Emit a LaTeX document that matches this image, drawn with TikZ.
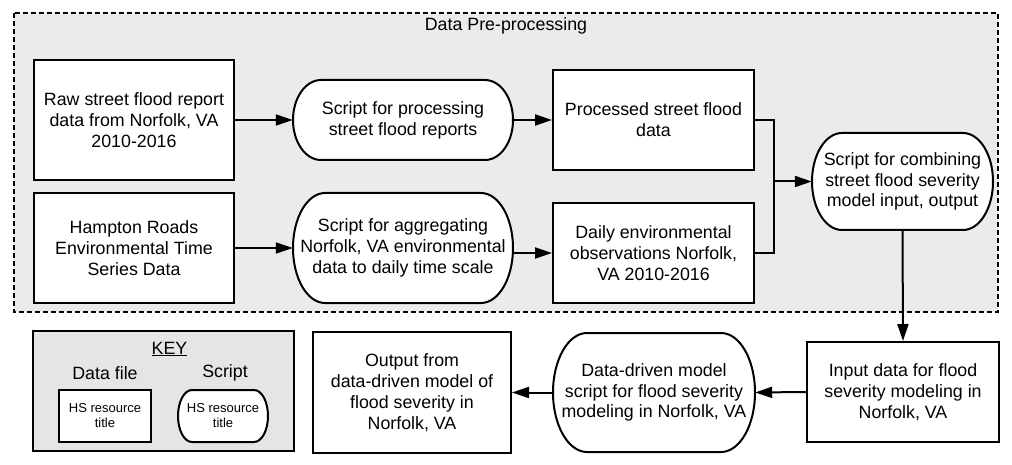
\documentclass[tikz,border=0pt]{standalone}
\usepackage{fontspec}
\setmainfont{Liberation Sans}
\usetikzlibrary{arrows.meta}
\definecolor{regionfill}{RGB}{235,235,235}
\definecolor{keyfill}{RGB}{229,229,229}
\tikzset{
  every node/.style={font=\fontsize{17.8}{20.8}\selectfont, align=center, inner sep=0pt},
  databox/.style={draw, line width=2pt, fill=white},
  termline/.style={draw, line width=2pt, fill=white},
  conn/.style={line width=2pt, -{Triangle[length=17pt,width=11pt]}},
  plainline/.style={line width=2pt},
  smalltext/.style={font=\fontsize{13}{15}\selectfont},
  region/.style={draw, fill=regionfill, line width=2pt, dash pattern=on 5pt off 3pt},
  keyregion/.style={draw, fill=keyfill, line width=2pt}
}
% #1 options, #2 name, #3 cx, #4 cy, #5 w, #6 h, #7 end radius, #8 text
\newcommand\termnode[8][]{%
  \path[termline] ({#3-#5/2+#7},{#4-#6/2}) -- ({#3+#5/2-#7},{#4-#6/2})
    arc[start angle=-90,end angle=90,x radius=#7,y radius=#6/2]
    -- ({#3-#5/2+#7},{#4+#6/2})
    arc[start angle=90,end angle=270,x radius=#7,y radius=#6/2] -- cycle;
  \node[minimum width=#5pt, minimum height=#6pt,#1] (#2) at (#3,#4) {#8};}
\newcommand\datanode[7][]{%
  \node[databox, minimum width=#5pt, minimum height=#6pt,#1] (#2) at (#3,#4) {#7};}
\begin{document}
\begin{tikzpicture}[x=1pt,y=-1pt]
\useasboundingbox (0,0) rectangle (1012,465);
% pre-processing region
\path[region] (14,13) rectangle (998,312);
\node (pretitle) at (506,26) {Data Pre-processing};

\datanode{raw}{134}{120}{200}{120}{Raw street flood report\\data from Norfolk, VA\\2010-2016}
\datanode{hampton}{134}{248}{200}{110}{Hampton Roads\\Environmental Time\\Series Data}
\termnode{s1}{403}{120}{220}{80}{28}{Script for processing\\street flood reports}
\termnode{s2}{403}{248}{220}{110}{32}{Script for aggregating\\Norfolk, VA environmental\\data to daily time scale}
\datanode{proc}{653.5}{120}{201}{100}{Processed street flood\\data}
\datanode{daily}{653.5}{253}{201}{100}{Daily environmental\\observations Norfolk,\\VA 2010-2016}
\termnode{comb}{902.5}{181.5}{181}{97}{30}{Script for combining\\street flood severity\\model input, output}

\datanode{input}{903}{392}{192}{100}{Input data for flood\\severity modeling in\\Norfolk, VA}
\termnode{s3}{654}{392.5}{202}{119}{34}{Data-driven model\\script for flood severity\\modeling in Norfolk, VA}
\datanode{output}{412}{392.5}{198}{121}{Output from\\data-driven model of\\flood severity in\\Norfolk, VA}

% key
\path[keyregion] (33,331) rectangle (294,451);
\node (keytitle) at (169.5,349) {\underline{KEY}};
\node (keydata) at (105,373) {Data file};
\node (keyscript) at (225,373) {Script};
\datanode[smalltext]{kd}{105}{416}{92}{52}{HS resource\\title}
\termnode[smalltext]{ks}{223}{416}{90}{52}{14}{HS resource\\title}

% connectors
\coordinate (join) at (774,181.5);
\draw[conn] (raw.east) -- (s1.west);
\draw[conn] (hampton.east) -- (s2.west);
\draw[conn] (s1.east) -- (proc.west);
\draw[conn] (s2.east |- daily.west) -- (daily.west);
\draw[plainline] (proc.east) -| (join);
\draw[plainline] (daily.east) -| (join);
\draw[conn] (join) -- (comb.west);
\draw[conn] (comb.south) -- (input.north);
\draw[conn] (input.west) -- (s3.east);
\draw[conn] (s3.west) -- (output.east);
\end{tikzpicture}
\end{document}
